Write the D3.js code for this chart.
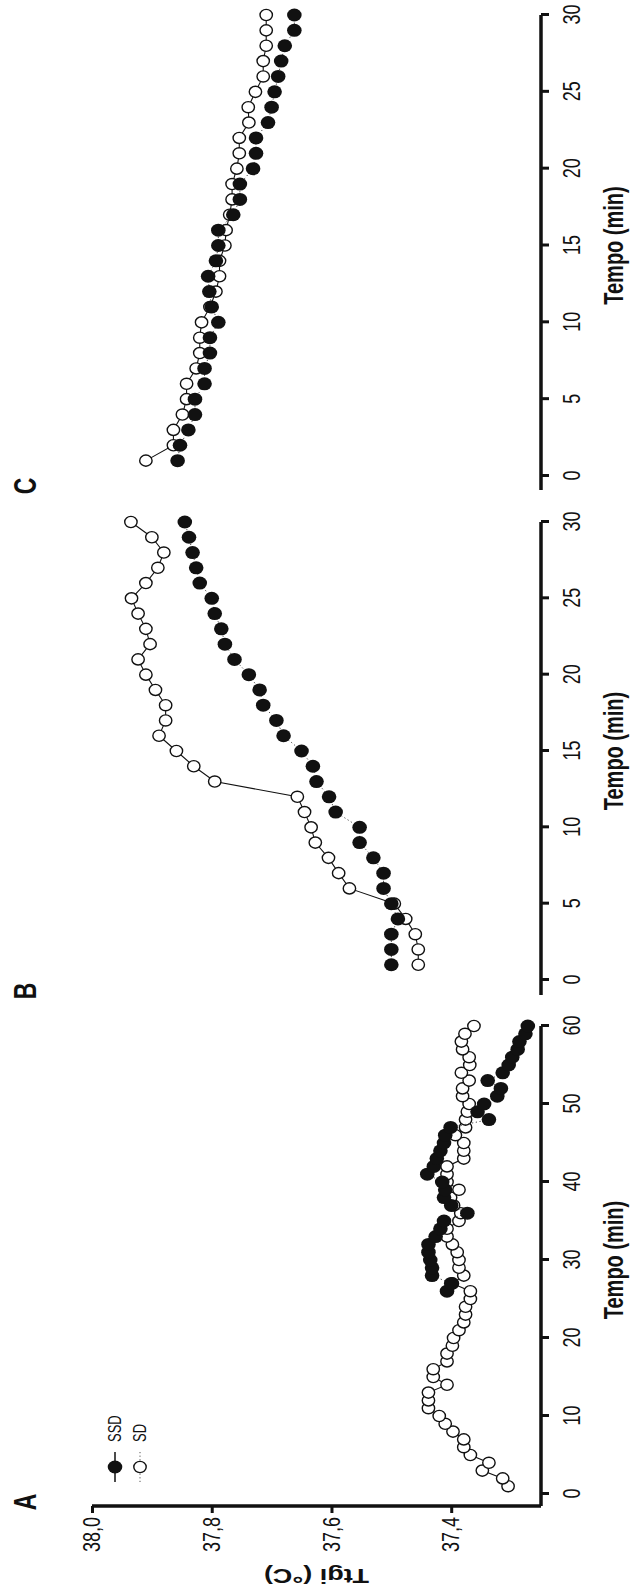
<!DOCTYPE html>
<html>
<head>
<meta charset="utf-8">
<script src="https://cdn.jsdelivr.net/npm/d3@7/dist/d3.min.js"></script>
<style>
  body { margin: 0; background: #fff; }
  svg { display: block; }
  text { font-family: 'Liberation Sans', Arial, sans-serif; fill: #111; }
</style>
</head>
<body>
<svg id="chart" width="637" height="1593"></svg>
<script>
// Ttgi (°C), one value per minute
// panel A: SD from minute 1, SSD from minute 26
const sdA = [
  37.305, 37.314, 37.348, 37.337, 37.368, 37.379, 37.379, 37.397, 37.410, 37.420,
  37.438, 37.438, 37.438, 37.407, 37.430, 37.430, 37.407, 37.407, 37.398, 37.396,
  37.387, 37.379, 37.376, 37.376, 37.368, 37.368, 37.398, 37.379, 37.387, 37.387,
  37.390, 37.398, 37.407, 37.407, 37.387, 37.384, 37.396, 37.401, 37.387, 37.407,
  37.407, 37.407, 37.379, 37.379, 37.379, 37.393, 37.376, 37.376, 37.373, 37.370,
  37.381, 37.381, 37.370, 37.383, 37.369, 37.370, 37.381, 37.383, 37.377, 37.362
];
const ssdA = [
  37.407, 37.400, 37.432, 37.432, 37.435, 37.438, 37.438, 37.426, 37.418, 37.412,
  37.373, 37.400, 37.412, 37.410, 37.415, 37.440, 37.429, 37.424, 37.418, 37.412,
  37.410, 37.401, 37.337, 37.356, 37.345, 37.323, 37.317, 37.339, 37.314, 37.304,
  37.298, 37.289, 37.286, 37.276, 37.272
];
// panels B and C: minutes 1-30
const sdB = [
  37.455, 37.455, 37.460, 37.476, 37.495, 37.570, 37.588, 37.605, 37.627, 37.634,
  37.645, 37.657, 37.795, 37.830, 37.859, 37.888, 37.877, 37.877, 37.894, 37.910,
  37.923, 37.903, 37.910, 37.923, 37.934, 37.910, 37.890, 37.880, 37.900, 37.935
];
const ssdB = [
  37.500, 37.500, 37.500, 37.489, 37.500, 37.513, 37.513, 37.530, 37.553, 37.553,
  37.593, 37.604, 37.625, 37.631, 37.650, 37.680, 37.692, 37.714, 37.720, 37.738,
  37.762, 37.778, 37.784, 37.795, 37.800, 37.820, 37.826, 37.832, 37.838, 37.845
];
const sdC = [
  37.910, 37.864, 37.864, 37.849, 37.842, 37.842, 37.826, 37.820, 37.820, 37.817,
  37.803, 37.793, 37.787, 37.787, 37.778, 37.776, 37.770, 37.766, 37.766, 37.758,
  37.754, 37.754, 37.738, 37.739, 37.727, 37.714, 37.714, 37.709, 37.709, 37.709
];
const ssdC = [
  37.857, 37.853, 37.839, 37.828, 37.828, 37.812, 37.812, 37.803, 37.803, 37.789,
  37.800, 37.804, 37.806, 37.793, 37.789, 37.789, 37.764, 37.753, 37.753, 37.731,
  37.726, 37.726, 37.706, 37.700, 37.695, 37.689, 37.684, 37.678, 37.662, 37.662
];

const tempTicks = [38.0, 37.8, 37.6, 37.4];
const ticksA = [0, 10, 20, 30, 40, 50, 60];
const ticksBC = [0, 5, 10, 15, 20, 25, 30];
const legendLabels = ['SSD', 'SD'];
const xLabel = 'Tempo (min)';
const yLabel = 'Ttgi (°C)';

// the whole figure is drawn upright, then turned a quarter turn
const W = 637, H = 1593,
  axisV = 541, // tempo axis line (vertical position in the upright frame)
  stretch = 1.35; // the text in the figure is taller than wide

const y = d3.scaleLinear().domain([37.25, 38.0]).range([axisV, 92]);
const fmt = d => d3.format('.1f')(d).replace('.', ',');

const panels = [
  { label: 'A', domain: [0, 60], range: [99, 567], pad: 12, ticks: ticksA,
    sd: sdA, sdStart: 1, ssd: ssdA, ssdStart: 26, yAxis: true },
  { label: 'B', domain: [0, 30], range: [613, 1071], pad: 15, ticks: ticksBC,
    sd: sdB, sdStart: 1, ssd: ssdB, ssdStart: 1 },
  { label: 'C', domain: [0, 30], range: [1117, 1578], pad: 14, ticks: ticksBC,
    sd: sdC, sdStart: 1, ssd: ssdC, ssdStart: 1 }
];

const svg = d3.select('#chart');
const root = svg.append('g').attr('transform', 'translate(0,' + H + ') rotate(-90)');

panels.forEach(p => {
  const x = d3.scaleLinear().domain(p.domain).range(p.range);
  const corner = p.range[0] - p.pad;
  const g = root.append('g').attr('class', 'panel');

  /* tempo axis */
  const xAxis = g.append('g')
    .attr('transform', 'translate(0,' + axisV + ')')
    .call(d3.axisBottom(x).tickValues(p.ticks).tickSize(8).tickSizeOuter(0));
  xAxis.select('.domain').remove();
  xAxis.selectAll('.tick line').attr('stroke', '#111').attr('stroke-width', 3);
  xAxis.selectAll('.tick text')
    .attr('y', 22 / stretch)
    .attr('transform', 'scale(1,' + stretch + ')')
    .style('font-size', '18px')
    .style('fill', '#111');
  g.append('line')
    .attr('x1', corner).attr('x2', p.range[1])
    .attr('y1', axisV).attr('y2', axisV)
    .attr('stroke', '#111').attr('stroke-width', 3.5);

  g.append('g')
    .attr('transform', 'translate(' + (p.range[0] + p.range[1]) / 2 + ',623) scale(1,' + stretch + ')')
    .append('text')
    .attr('text-anchor', 'middle')
    .style('font-size', '20px')
    .style('font-weight', 'bold')
    .text(xLabel);

  g.append('g')
    .attr('transform', 'translate(' + (corner + 4) + ',25) scale(1,' + stretch + ')')
    .append('text')
    .attr('text-anchor', 'middle')
    .attr('dy', '0.36em')
    .style('font-size', '23px')
    .style('font-weight', 'bold')
    .text(p.label);

  if (p.yAxis) {
    const yAxis = g.append('g')
      .attr('transform', 'translate(' + corner + ',0)')
      .call(d3.axisLeft(y).tickValues(tempTicks).tickSize(7).tickSizeOuter(0).tickFormat(fmt));
    yAxis.select('.domain').remove();
    yAxis.selectAll('.tick line').attr('stroke', '#111').attr('stroke-width', 3);
    yAxis.selectAll('.tick text')
      .attr('x', -11)
      .attr('transform', 'scale(1,' + stretch + ')')
      .style('font-size', '18px')
      .style('fill', '#111');
    g.append('line')
      .attr('x1', corner).attr('x2', corner)
      .attr('y1', y(38.0)).attr('y2', axisV)
      .attr('stroke', '#111').attr('stroke-width', 3.5);

    g.append('g')
      .attr('transform', 'translate(24,' + (y(38.0) + axisV) / 2 + ') scale(1,' + stretch + ') rotate(-90)')
      .append('text')
      .attr('text-anchor', 'middle')
      .style('font-size', '20px')
      .style('font-weight', 'bold')
      .text(yLabel);

    /* legend */
    const leg = g.append('g').attr('class', 'legend');
    legendLabels.forEach((name, i) => {
      const v = 115 + i * 25;
      const filled = name === 'SSD';
      leg.append('line')
        .attr('x1', 111).attr('x2', 141).attr('y1', v).attr('y2', v)
        .attr('stroke', filled ? '#111' : '#555')
        .attr('stroke-width', filled ? 1.5 : 1)
        .attr('stroke-dasharray', filled ? null : '1.2,2.4');
      leg.append('ellipse')
        .attr('cx', 126).attr('cy', v)
        .attr('rx', filled ? 6.5 : 5.6).attr('ry', filled ? 7.3 : 6.2)
        .attr('fill', filled ? '#111' : '#fff')
        .attr('stroke', '#111').attr('stroke-width', filled ? 0 : 1.4);
      leg.append('g')
        .attr('transform', 'translate(151,' + v + ') scale(1,' + stretch + ')')
        .append('text')
        .attr('dy', '0.35em')
        .style('font-size', '13px')
        .text(name);
    });
  }

  /* series: SD (open, solid line) under SSD (filled, dotted line) */
  const line = d3.line().x(d => x(d.t)).y(d => y(d.v));
  const sd = p.sd.map((v, i) => ({ t: p.sdStart + i, v }));
  const ssd = p.ssd.map((v, i) => ({ t: p.ssdStart + i, v }));

  g.append('path')
    .attr('d', line(sd))
    .attr('fill', 'none')
    .attr('stroke', '#111')
    .attr('stroke-width', 1.1);
  g.append('g').selectAll('ellipse')
    .data(sd)
    .join('ellipse')
    .attr('cx', d => x(d.t)).attr('cy', d => y(d.v))
    .attr('rx', 5.6).attr('ry', 6.2)
    .attr('fill', '#fff')
    .attr('stroke', '#111')
    .attr('stroke-width', 1.4);

  g.append('path')
    .attr('d', line(ssd))
    .attr('fill', 'none')
    .attr('stroke', '#444')
    .attr('stroke-width', 1)
    .attr('stroke-dasharray', '1.2,2.6');
  g.append('g').selectAll('ellipse')
    .data(ssd)
    .join('ellipse')
    .attr('cx', d => x(d.t)).attr('cy', d => y(d.v))
    .attr('rx', 6.5).attr('ry', 7.3)
    .attr('fill', '#111');
});
</script>
</body>
</html>
